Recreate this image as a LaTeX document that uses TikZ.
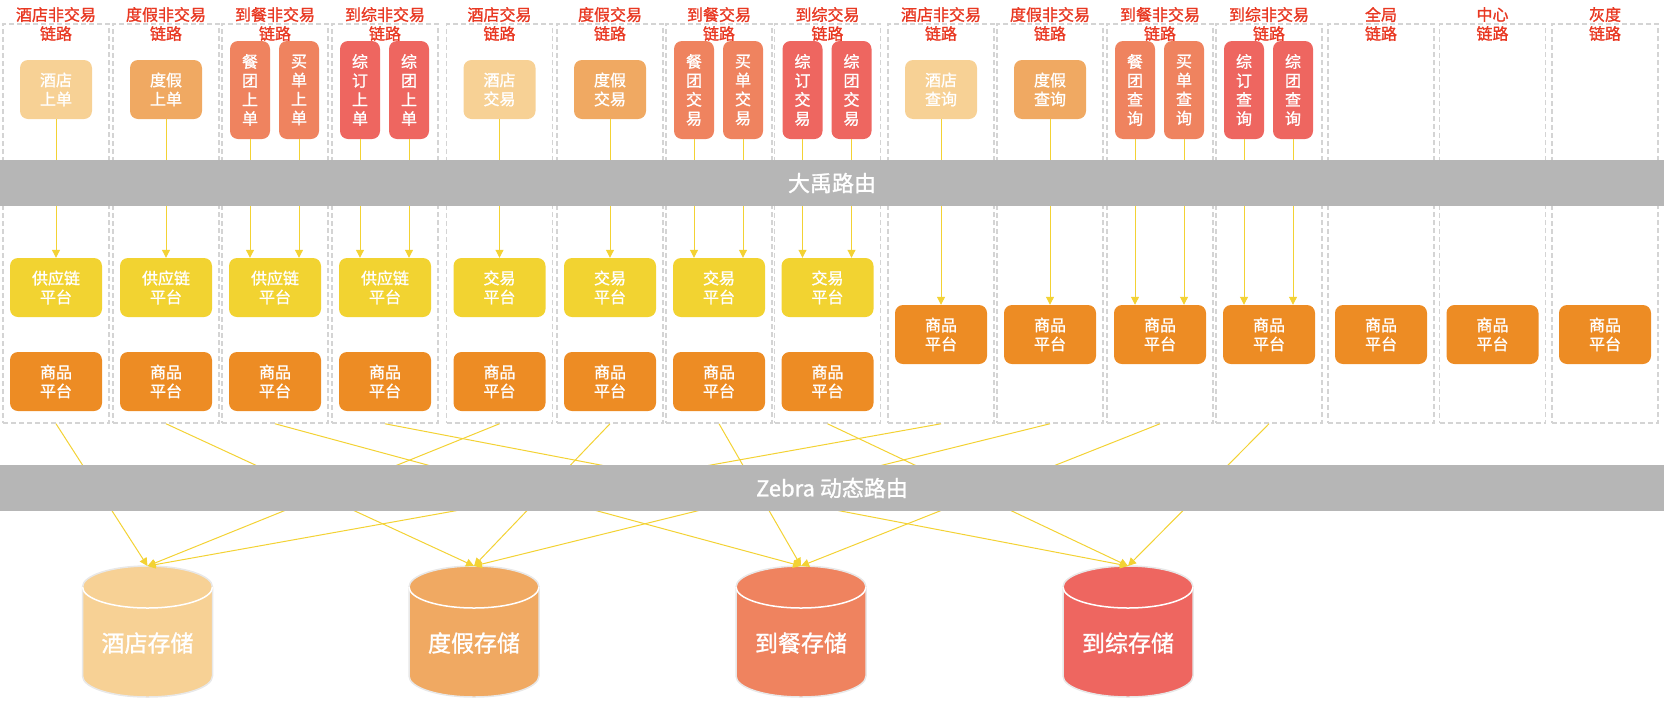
\documentclass[tikz,border=0pt]{standalone}
\usepackage{fontspec}
\usepackage{tikz}
\usetikzlibrary{arrows.meta}
\newfontfamily\cjk{Noto Sans CJK SC}[FakeBold=1.2]
\definecolor{titlered}{RGB}{232,56,34}
\definecolor{hotelc}{RGB}{247,209,149}
\definecolor{vacc}{RGB}{240,169,98}
\definecolor{dinec}{RGB}{239,131,95}
\definecolor{genc}{RGB}{238,102,96}
\definecolor{supplyc}{RGB}{242,211,49}
\definecolor{goodsc}{RGB}{237,140,36}
\definecolor{bargray}{RGB}{182,182,182}
\definecolor{lanegray}{RGB}{212,212,212}
\definecolor{linkyellow}{RGB}{243,210,52}
\tikzstyle{line} = [draw=linkyellow, line width=1pt, -{Triangle[length=8pt,width=8pt]}]
\tikzstyle{lane} = [draw=lanegray, line width=1.5pt, dash pattern=on 5pt off 3pt, minimum width=106pt, minimum height=399pt, inner sep=0pt]
\tikzstyle{lanetitle} = [font=\cjk\fontsize{16}{19}\selectfont, text=titlered, align=center, inner sep=0pt]
\tikzstyle{entry} = [rounded corners=8pt, font=\cjk\fontsize{16}{19}\selectfont, text=white, align=center, minimum width=72pt, minimum height=59pt, inner sep=0pt]
\tikzstyle{narrow} = [entry, minimum width=40pt, minimum height=98pt]
\tikzstyle{plat} = [entry, minimum width=92pt]
\tikzstyle{bar} = [fill=bargray, minimum width=1664pt, minimum height=46pt, inner sep=0pt, text=white, font=\cjk\fontsize{22}{26}\selectfont]
\tikzstyle{storebody} = [draw=white!91!black, line width=1.5pt]
\tikzstyle{storerim} = [draw=white, line width=1.5pt]
\tikzstyle{storetext} = [text=white, font=\cjk\fontsize{23}{26}\selectfont]

\begin{document}
\begin{tikzpicture}[x=1pt,y=-1pt]
    \useasboundingbox (0,0) rectangle (1664,702);

        % lanes
        \node[lane] (L1) at (56,223.5) {};
        \node[lane] (L2) at (166,223.5) {};
        \node[lane] (L3) at (275,223.5) {};
        \node[lane] (L4) at (385,223.5) {};
        \node[lane] (L5) at (499.5,223.5) {};
        \node[lane] (L6) at (610,223.5) {};
        \node[lane] (L7) at (719,223.5) {};
        \node[lane] (L8) at (827.5,223.5) {};
        \node[lane] (L9) at (941,223.5) {};
        \node[lane] (L10) at (1050,223.5) {};
        \node[lane] (L11) at (1160,223.5) {};
        \node[lane] (L12) at (1269,223.5) {};
        \node[lane] (L13) at (1381,223.5) {};
        \node[lane] (L14) at (1492.5,223.5) {};
        \node[lane] (L15) at (1605,223.5) {};

        \node[lanetitle] (T1) at (56,24) {酒店非交易\\链路};
        \node[lanetitle] (T2) at (166,24) {度假非交易\\链路};
        \node[lanetitle] (T3) at (275,24) {到餐非交易\\链路};
        \node[lanetitle] (T4) at (385,24) {到综非交易\\链路};
        \node[lanetitle] (T5) at (499.5,24) {酒店交易\\链路};
        \node[lanetitle] (T6) at (610,24) {度假交易\\链路};
        \node[lanetitle] (T7) at (719,24) {到餐交易\\链路};
        \node[lanetitle] (T8) at (827.5,24) {到综交易\\链路};
        \node[lanetitle] (T9) at (941,24) {酒店非交易\\链路};
        \node[lanetitle] (T10) at (1050,24) {度假非交易\\链路};
        \node[lanetitle] (T11) at (1160,24) {到餐非交易\\链路};
        \node[lanetitle] (T12) at (1269,24) {到综非交易\\链路};
        \node[lanetitle] (T13) at (1381,24) {全局\\链路};
        \node[lanetitle] (T14) at (1492.5,24) {中心\\链路};
        \node[lanetitle] (T15) at (1605,24) {灰度\\链路};

        % entries
        \node[entry,fill=hotelc] (E1) at (56,89.5) {酒店\\上单};
        \node[entry,fill=vacc] (E2) at (166,89.5) {度假\\上单};
        \node[narrow,fill=dinec] (E3a) at (250,90) {餐\\团\\上\\单};
        \node[narrow,fill=dinec] (E3b) at (299,90) {买\\单\\上\\单};
        \node[narrow,fill=genc] (E4a) at (360,90) {综\\订\\上\\单};
        \node[narrow,fill=genc] (E4b) at (409,90) {综\\团\\上\\单};
        \node[entry,fill=hotelc] (E5) at (499.5,89.5) {酒店\\交易};
        \node[entry,fill=vacc] (E6) at (610,89.5) {度假\\交易};
        \node[narrow,fill=dinec] (E7a) at (694,90) {餐\\团\\交\\易};
        \node[narrow,fill=dinec] (E7b) at (743,90) {买\\单\\交\\易};
        \node[narrow,fill=genc] (E8a) at (802.5,90) {综\\订\\交\\易};
        \node[narrow,fill=genc] (E8b) at (851.5,90) {综\\团\\交\\易};
        \node[entry,fill=hotelc] (E9) at (941,89.5) {酒店\\查询};
        \node[entry,fill=vacc] (E10) at (1050,89.5) {度假\\查询};
        \node[narrow,fill=dinec] (E11a) at (1135,90) {餐\\团\\查\\询};
        \node[narrow,fill=dinec] (E11b) at (1184,90) {买\\单\\查\\询};
        \node[narrow,fill=genc] (E12a) at (1244,90) {综\\订\\查\\询};
        \node[narrow,fill=genc] (E12b) at (1293,90) {综\\团\\查\\询};

        % platforms
        \node[plat,fill=supplyc] (P1) at (56,287.5) {供应链\\平台};
        \node[plat,fill=supplyc] (P2) at (166,287.5) {供应链\\平台};
        \node[plat,fill=supplyc] (P3) at (275,287.5) {供应链\\平台};
        \node[plat,fill=supplyc] (P4) at (385,287.5) {供应链\\平台};
        \node[plat,fill=supplyc] (P5) at (499.5,287.5) {交易\\平台};
        \node[plat,fill=supplyc] (P6) at (610,287.5) {交易\\平台};
        \node[plat,fill=supplyc] (P7) at (719,287.5) {交易\\平台};
        \node[plat,fill=supplyc] (P8) at (827.5,287.5) {交易\\平台};

        \node[plat,fill=goodsc] (G1) at (56,381.5) {商品\\平台};
        \node[plat,fill=goodsc] (G2) at (166,381.5) {商品\\平台};
        \node[plat,fill=goodsc] (G3) at (275,381.5) {商品\\平台};
        \node[plat,fill=goodsc] (G4) at (385,381.5) {商品\\平台};
        \node[plat,fill=goodsc] (G5) at (499.5,381.5) {商品\\平台};
        \node[plat,fill=goodsc] (G6) at (610,381.5) {商品\\平台};
        \node[plat,fill=goodsc] (G7) at (719,381.5) {商品\\平台};
        \node[plat,fill=goodsc] (G8) at (827.5,381.5) {商品\\平台};
        \node[plat,fill=goodsc] (G9) at (941,334.5) {商品\\平台};
        \node[plat,fill=goodsc] (G10) at (1050,334.5) {商品\\平台};
        \node[plat,fill=goodsc] (G11) at (1160,334.5) {商品\\平台};
        \node[plat,fill=goodsc] (G12) at (1269,334.5) {商品\\平台};
        \node[plat,fill=goodsc] (G13) at (1381,334.5) {商品\\平台};
        \node[plat,fill=goodsc] (G14) at (1492.5,334.5) {商品\\平台};
        \node[plat,fill=goodsc] (G15) at (1605,334.5) {商品\\平台};

        % storage
        \path[storebody,fill=hotelc] (82.5,587) -- (82.5,676) arc[start angle=180,end angle=0,x radius=65,y radius=21] -- (212.5,587) arc[start angle=0,end angle=-180,x radius=65,y radius=21] -- cycle;
        \path[storerim] (82.5,587) arc[start angle=180,end angle=0,x radius=65,y radius=21];
        \path[storebody,fill=vacc] (409,587) -- (409,676) arc[start angle=180,end angle=0,x radius=65,y radius=21] -- (539,587) arc[start angle=0,end angle=-180,x radius=65,y radius=21] -- cycle;
        \path[storerim] (409,587) arc[start angle=180,end angle=0,x radius=65,y radius=21];
        \path[storebody,fill=dinec] (736,587) -- (736,676) arc[start angle=180,end angle=0,x radius=65,y radius=21] -- (866,587) arc[start angle=0,end angle=-180,x radius=65,y radius=21] -- cycle;
        \path[storerim] (736,587) arc[start angle=180,end angle=0,x radius=65,y radius=21];
        \path[storebody,fill=genc] (1063,587) -- (1063,676) arc[start angle=180,end angle=0,x radius=65,y radius=21] -- (1193,587) arc[start angle=0,end angle=-180,x radius=65,y radius=21] -- cycle;
        \path[storerim] (1063,587) arc[start angle=180,end angle=0,x radius=65,y radius=21];
        \coordinate (D1) at (147.5,566);
        \coordinate (D2) at (474,566);
        \coordinate (D3) at (801,566);
        \coordinate (D4) at (1128,566);
        \node[storetext] (D1t) at (147.5,643) {酒店存储};
        \node[storetext] (D2t) at (474,643) {度假存储};
        \node[storetext] (D3t) at (801,643) {到餐存储};
        \node[storetext] (D4t) at (1128,643) {到综存储};

        % routing above the platforms
        \path[line] (E1.south) -- (P1.north);
        \path[line] (E2.south) -- (P2.north);
        \path[line] (E3a.south) -- (E3a.south |- P3.north);
        \path[line] (E3b.south) -- (E3b.south |- P3.north);
        \path[line] (E4a.south) -- (E4a.south |- P4.north);
        \path[line] (E4b.south) -- (E4b.south |- P4.north);
        \path[line] (E5.south) -- (P5.north);
        \path[line] (E6.south) -- (P6.north);
        \path[line] (E7a.south) -- (E7a.south |- P7.north);
        \path[line] (E7b.south) -- (E7b.south |- P7.north);
        \path[line] (E8a.south) -- (E8a.south |- P8.north);
        \path[line] (E8b.south) -- (E8b.south |- P8.north);
        \path[line] (E9.south) -- (G9.north);
        \path[line] (E10.south) -- (G10.north);
        \path[line] (E11a.south) -- (E11a.south |- G11.north);
        \path[line] (E11b.south) -- (E11b.south |- G11.north);
        \path[line] (E12a.south) -- (E12a.south |- G12.north);
        \path[line] (E12b.south) -- (E12b.south |- G12.north);

        % lanes to storage
        \path[line] (L1.south) -- (D1);
        \path[line] (L5.south) -- (D1);
        \path[line] (L9.south) -- (D1);
        \path[line] (L2.south) -- (D2);
        \path[line] (L6.south) -- (D2);
        \path[line] (L10.south) -- (D2);
        \path[line] (L3.south) -- (D3);
        \path[line] (L7.south) -- (D3);
        \path[line] (L11.south) -- (D3);
        \path[line] (L4.south) -- (D4);
        \path[line] (L8.south) -- (D4);
        \path[line] (L12.south) -- (D4);

    \node[bar] (dayu) at (832,183) {大禹路由};
    \node[bar] (zebra) at (832,488) {Zebra 动态路由};

    \end{tikzpicture}
\end{document}
